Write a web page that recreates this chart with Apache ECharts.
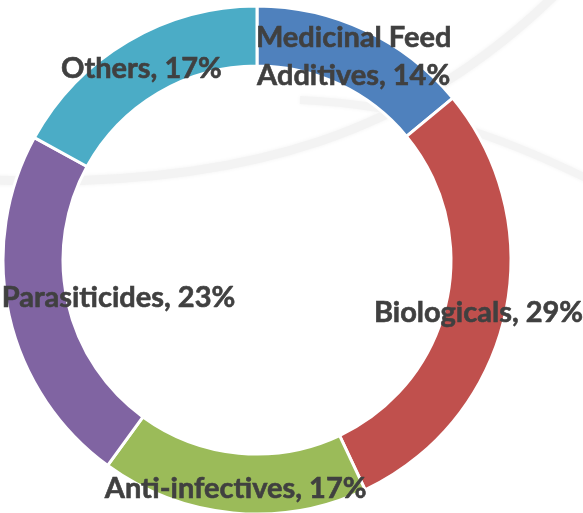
<!DOCTYPE html>
<html>
<head>
<meta charset="utf-8">
<script src="https://cdn.jsdelivr.net/npm/echarts@6/dist/echarts.min.js"></script>
<style>
html,body{margin:0;padding:0;background:#fff;}
#c{width:583px;height:513px;}
</style>
</head>
<body>
<div id="c"></div>
<script>
const categories = ['Medicinal Feed\nAdditives', 'Biologicals', 'Anti-infectives', 'Parasiticides', 'Others'];
const shares = [14, 29, 17, 23, 17];
const colors = ['#4F81BD', '#C0504D', '#9BBB59', '#8064A2', '#4BACC6'];
const labelOffsets = [[0, 2], [0, 3], [0, 3], [83, -12], [0, 4]];

const chart = echarts.init(document.getElementById('c'), null, {renderer: 'canvas'});
const data = categories.map((name, i) => ({
  name: name,
  value: shares[i],
  itemStyle: {color: colors[i]},
  label: {offset: labelOffsets[i]}
}));

chart.setOption({
  animation: false,
  backgroundColor: '#ffffff',
  graphic: [
    {type: 'bezierCurve', z: -10, shape: {x1: -10, y1: 180, cpx1: 250, cpy1: 190, cpx2: 420, cpy2: 130, x2: 560, y2: -10},
     style: {stroke: '#f3f3f3', lineWidth: 9, fill: null, shadowBlur: 4, shadowColor: '#f3f3f3'}},
    {type: 'bezierCurve', z: -10, shape: {x1: 300, y1: 100, cpx1: 420, cpy1: 105, cpx2: 510, cpy2: 140, x2: 600, y2: 185},
     style: {stroke: '#f4f4f4', lineWidth: 8, fill: null, shadowBlur: 4, shadowColor: '#f4f4f4'}}
  ],
  series: [{
    type: 'pie',
    center: [257, 260],
    radius: [194, 254],
    startAngle: 90,
    clockwise: true,
    avoidLabelOverlap: false,
    itemStyle: {borderColor: '#ffffff', borderWidth: 3},
    label: {
      show: true,
      position: 'inside',
      formatter: p => p.name + ', ' + p.value + '%',
      color: '#404040',
      fontFamily: 'Lato',
      fontWeight: 'bold',
      fontSize: 29,
      lineHeight: 38,
      textBorderColor: '#404040',
      textBorderWidth: 0.6,
      align: 'center'
    },
    labelLine: {show: false},
    emphasis: {disabled: true},
    data: data
  }]
});
</script>
</body>
</html>
